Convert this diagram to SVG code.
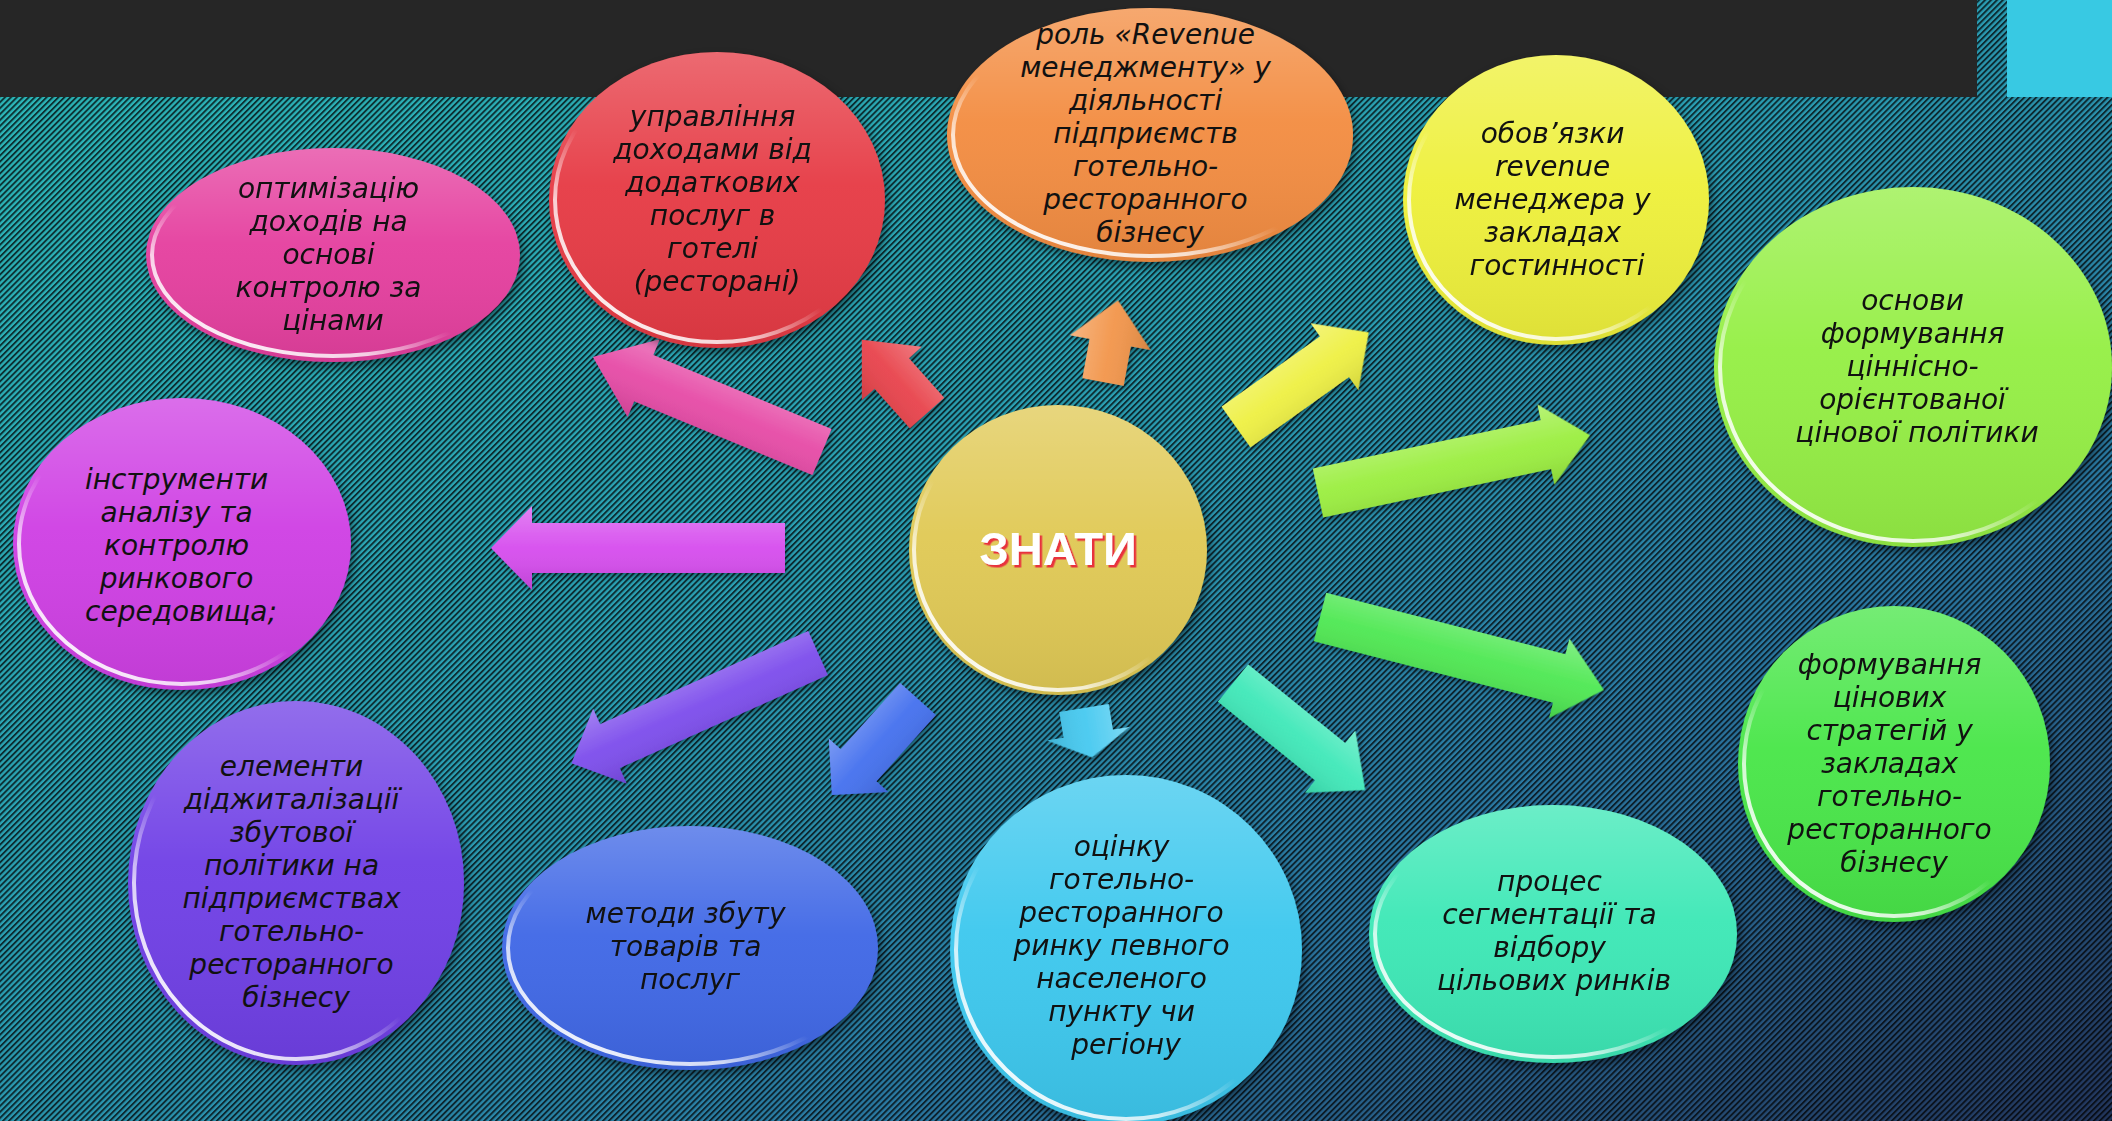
<svg xmlns="http://www.w3.org/2000/svg" width="2112" height="1121" viewBox="0 0 2112 1121">
<defs>
  <linearGradient id="bg" x1="0" y1="0" x2="1" y2="1">
    <stop offset="0" stop-color="#2cb8b8"/>
    <stop offset="0.45" stop-color="#2a9eb2"/>
    <stop offset="0.72" stop-color="#2a76a0"/>
    <stop offset="1" stop-color="#22355c"/>
  </linearGradient>
  <pattern id="stripes" width="4.2" height="4.2" patternUnits="userSpaceOnUse" patternTransform="rotate(45)">
    <rect x="0" y="0" width="1.9" height="4.2" fill="#000" fill-opacity="0.72"/>
  </pattern>
  <linearGradient id="gloss" x1="0" y1="0" x2="0" y2="1">
    <stop offset="0" stop-color="#fff" stop-opacity="0.24"/>
    <stop offset="0.45" stop-color="#fff" stop-opacity="0.04"/>
    <stop offset="1" stop-color="#000" stop-opacity="0.07"/>
  </linearGradient>
  <linearGradient id="rimg" x1="0.05" y1="0.95" x2="0.55" y2="0.35">
    <stop offset="0" stop-color="#fff" stop-opacity="1"/>
    <stop offset="0.4" stop-color="#fff" stop-opacity="0.75"/>
    <stop offset="0.7" stop-color="#fff" stop-opacity="0"/>
  </linearGradient>
  <linearGradient id="abev" x1="0" y1="0" x2="0" y2="1">
    <stop offset="0" stop-color="#fff" stop-opacity="0.3"/>
    <stop offset="0.5" stop-color="#fff" stop-opacity="0.05"/>
    <stop offset="1" stop-color="#000" stop-opacity="0.12"/>
  </linearGradient>
  <filter id="sh" x="-10%" y="-10%" width="125%" height="125%">
    <feDropShadow dx="3" dy="5" stdDeviation="5" flood-color="#000" flood-opacity="0.45"/>
  </filter>
  <filter id="ash" x="-10%" y="-20%" width="130%" height="150%">
    <feDropShadow dx="2" dy="3" stdDeviation="3" flood-color="#000" flood-opacity="0.35"/>
  </filter>
  <filter id="redsh" x="-5%" y="-5%" width="115%" height="120%">
    <feDropShadow dx="2.5" dy="2.5" stdDeviation="0" flood-color="#e8323c" flood-opacity="1"/>
  </filter>
  <style>
    .t{font-family:"DejaVu Sans","Liberation Sans",sans-serif;font-style:italic;font-size:28px;fill:#111;text-anchor:middle}
    .rim{fill:none;stroke:url(#rimg);stroke-width:4}
    .gl{fill:url(#gloss)}
    .bev{fill:url(#abev)}
    .main{font-family:"Liberation Sans","Arial",sans-serif;font-weight:bold;font-size:47px;fill:#fff;text-anchor:middle}
  </style>
</defs>

<!-- background -->
<rect x="0" y="0" width="2112" height="1121" fill="url(#bg)"/>
<rect x="0" y="0" width="2112" height="1121" fill="url(#stripes)"/>
<rect x="0" y="0" width="1977" height="97" fill="#262626"/>
<rect x="2007" y="0" width="105" height="97" fill="#38c9e3"/>

<!-- connectors -->
<g id="connectors" filter="url(#ash)">
  <g transform="translate(822,452) rotate(-157.5) scale(1,-1)">
    <path d="M0,-25 L193,-25 L193,-42 L248,0 L193,42 L193,25 L0,25 Z" fill="#e64aa6"/>
    <path d="M0,-25 L193,-25 L193,-42 L248,0 L193,42 L193,25 L0,25 Z" class="bev"/>
  </g>
  <g transform="translate(927,413) rotate(-131.7) scale(1,-1)">
    <path d="M0,-23 L53,-23 L53,-40 L98,0 L53,40 L53,23 L0,23 Z" fill="#e8434b"/>
    <path d="M0,-23 L53,-23 L53,-40 L98,0 L53,40 L53,23 L0,23 Z" class="bev"/>
  </g>
  <g transform="translate(1103,382) rotate(-79.6)">
    <path d="M0,-21 L40,-21 L40,-41 L83,0 L40,41 L40,21 L0,21 Z" fill="#f2954a"/>
    <path d="M0,-21 L40,-21 L40,-41 L83,0 L40,41 L40,21 L0,21 Z" class="bev"/>
  </g>
  <g transform="translate(1236,427) rotate(-35.5)">
    <path d="M0,-25 L121,-25 L121,-41 L163,0 L121,41 L121,25 L0,25 Z" fill="#eef043"/>
    <path d="M0,-25 L121,-25 L121,-41 L163,0 L121,41 L121,25 L0,25 Z" class="bev"/>
  </g>
  <g transform="translate(1318,493) rotate(-12)">
    <path d="M0,-25 L233,-25 L233,-41 L278,0 L233,41 L233,25 L0,25 Z" fill="#9aee3e"/>
    <path d="M0,-25 L233,-25 L233,-41 L278,0 L233,41 L233,25 L0,25 Z" class="bev"/>
  </g>
  <g transform="translate(1320,617) rotate(14.4)">
    <path d="M0,-25 L247,-25 L247,-41 L293,0 L247,41 L247,25 L0,25 Z" fill="#4ee852"/>
    <path d="M0,-25 L247,-25 L247,-41 L293,0 L247,41 L247,25 L0,25 Z" class="bev"/>
  </g>
  <g transform="translate(1233,683) rotate(39)">
    <path d="M0,-24 L125,-24 L125,-40 L170,0 L125,40 L125,24 L0,24 Z" fill="#3ee8b8"/>
    <path d="M0,-24 L125,-24 L125,-40 L170,0 L125,40 L125,24 L0,24 Z" class="bev"/>
  </g>
  <g transform="translate(1084,708) rotate(80.7)">
    <path d="M0,-25 L26,-25 L26,-42 L50,0 L26,42 L26,25 L0,25 Z" fill="#46c9f0"/>
    <path d="M0,-25 L26,-25 L26,-42 L50,0 L26,42 L26,25 L0,25 Z" class="bev"/>
  </g>
  <g transform="translate(918,699) rotate(131.9) scale(1,-1)">
    <path d="M0,-24 L89,-24 L89,-40 L129,0 L89,40 L89,24 L0,24 Z" fill="#4470ee"/>
    <path d="M0,-24 L89,-24 L89,-40 L129,0 L89,40 L89,24 L0,24 Z" class="bev"/>
  </g>
  <g transform="translate(818,653) rotate(155.9) scale(1,-1)">
    <path d="M0,-24 L228,-24 L228,-41 L270,0 L228,41 L228,24 L0,24 Z" fill="#7c4cec"/>
    <path d="M0,-24 L228,-24 L228,-41 L270,0 L228,41 L228,24 L0,24 Z" class="bev"/>
  </g>
  <g transform="translate(785,548) rotate(180) scale(1,-1)">
    <path d="M0,-25 L253,-25 L253,-42 L294,0 L253,42 L253,25 L0,25 Z" fill="#d64cee"/>
    <path d="M0,-25 L253,-25 L253,-42 L294,0 L253,42 L253,25 L0,25 Z" class="bev"/>
  </g>
</g>

<!-- nodes -->
<g id="n-center">
  <ellipse cx="1058" cy="550" rx="149" ry="145" fill="#e0c955" filter="url(#sh)"/>
  <ellipse cx="1058" cy="550" rx="149" ry="145" class="gl"/>
  <ellipse cx="1058" cy="550" rx="144" ry="140" class="rim"/>
  <text class="main" x="1058" y="565" filter="url(#redsh)">ЗНАТИ</text>
</g>

<g id="n-optimization">
  <ellipse cx="333" cy="255" rx="187" ry="107" fill="#e5409f" filter="url(#sh)"/>
  <ellipse cx="333" cy="255" rx="187" ry="107" class="gl"/>
  <ellipse cx="333" cy="255" rx="181" ry="101" class="rim"/>
  <text class="t">
    <tspan x="333" y="198">оптимізацію</tspan>
    <tspan x="333" y="231">доходів на</tspan>
    <tspan x="333" y="264">основі</tspan>
    <tspan x="333" y="297">контролю за</tspan>
    <tspan x="333" y="330">цінами</tspan>
  </text>
</g>

<g id="n-income">
  <ellipse cx="717" cy="200" rx="168" ry="148" fill="#e63a44" filter="url(#sh)"/>
  <ellipse cx="717" cy="200" rx="168" ry="148" class="gl"/>
  <ellipse cx="717" cy="200" rx="162" ry="142" class="rim"/>
  <text class="t">
    <tspan x="717" y="126">управління</tspan>
    <tspan x="717" y="159">доходами від</tspan>
    <tspan x="717" y="192">додаткових</tspan>
    <tspan x="717" y="225">послуг в</tspan>
    <tspan x="717" y="258">готелі</tspan>
    <tspan x="717" y="291">(ресторані)</tspan>
  </text>
</g>

<g id="n-role">
  <ellipse cx="1150" cy="135" rx="203" ry="127" fill="#f38d42" filter="url(#sh)"/>
  <ellipse cx="1150" cy="135" rx="203" ry="127" class="gl"/>
  <ellipse cx="1150" cy="135" rx="197" ry="121" class="rim"/>
  <text class="t">
    <tspan x="1150" y="44">роль «Revenue</tspan>
    <tspan x="1150" y="77">менеджменту» у</tspan>
    <tspan x="1150" y="110">діяльності</tspan>
    <tspan x="1150" y="143">підприємств</tspan>
    <tspan x="1150" y="176">готельно-</tspan>
    <tspan x="1150" y="209">ресторанного</tspan>
    <tspan x="1150" y="242">бізнесу</tspan>
  </text>
</g>

<g id="n-duties">
  <ellipse cx="1556" cy="200" rx="153" ry="145" fill="#eef03a" filter="url(#sh)"/>
  <ellipse cx="1556" cy="200" rx="153" ry="145" class="gl"/>
  <ellipse cx="1556" cy="200" rx="147" ry="139" class="rim"/>
  <text class="t">
    <tspan x="1557" y="143">обов’язки</tspan>
    <tspan x="1557" y="176">revenue</tspan>
    <tspan x="1557" y="209">менеджера у</tspan>
    <tspan x="1557" y="242">закладах</tspan>
    <tspan x="1557" y="275">гостинності</tspan>
  </text>
</g>

<g id="n-value-pricing">
  <ellipse cx="1913" cy="367" rx="199" ry="180" fill="#95ef44" filter="url(#sh)"/>
  <ellipse cx="1913" cy="367" rx="199" ry="180" class="gl"/>
  <ellipse cx="1913" cy="367" rx="193" ry="174" class="rim"/>
  <text class="t">
    <tspan x="1917" y="310">основи</tspan>
    <tspan x="1917" y="343">формування</tspan>
    <tspan x="1917" y="376">ціннісно-</tspan>
    <tspan x="1917" y="409">орієнтованої</tspan>
    <tspan x="1917" y="442">цінової політики</tspan>
  </text>
</g>

<g id="n-tools">
  <ellipse cx="182" cy="544" rx="169" ry="146" fill="#cf3fe4" filter="url(#sh)"/>
  <ellipse cx="182" cy="544" rx="169" ry="146" class="gl"/>
  <ellipse cx="182" cy="544" rx="163" ry="140" class="rim"/>
  <text class="t">
    <tspan x="181" y="489">інструменти</tspan>
    <tspan x="181" y="522">аналізу та</tspan>
    <tspan x="181" y="555">контролю</tspan>
    <tspan x="181" y="588">ринкового</tspan>
    <tspan x="181" y="621">середовища;</tspan>
  </text>
</g>

<g id="n-digital">
  <ellipse cx="296" cy="883" rx="168" ry="182" fill="#7040e6" filter="url(#sh)"/>
  <ellipse cx="296" cy="883" rx="168" ry="182" class="gl"/>
  <ellipse cx="296" cy="883" rx="162" ry="176" class="rim"/>
  <text class="t">
    <tspan x="296" y="776">елементи</tspan>
    <tspan x="296" y="809">діджиталізації</tspan>
    <tspan x="296" y="842">збутової</tspan>
    <tspan x="296" y="875">політики на</tspan>
    <tspan x="296" y="908">підприємствах</tspan>
    <tspan x="296" y="941">готельно-</tspan>
    <tspan x="296" y="974">ресторанного</tspan>
    <tspan x="296" y="1007">бізнесу</tspan>
  </text>
</g>

<g id="n-sales">
  <ellipse cx="690" cy="948" rx="188" ry="122" fill="#4068e6" filter="url(#sh)"/>
  <ellipse cx="690" cy="948" rx="188" ry="122" class="gl"/>
  <ellipse cx="690" cy="948" rx="182" ry="116" class="rim"/>
  <text class="t">
    <tspan x="690" y="923">методи збуту</tspan>
    <tspan x="690" y="956">товарів та</tspan>
    <tspan x="690" y="989">послуг</tspan>
  </text>
</g>

<g id="n-market">
  <ellipse cx="1126" cy="950" rx="176" ry="175" fill="#3cc8ee" filter="url(#sh)"/>
  <ellipse cx="1126" cy="950" rx="176" ry="175" class="gl"/>
  <ellipse cx="1126" cy="950" rx="170" ry="169" class="rim"/>
  <text class="t">
    <tspan x="1126" y="856">оцінку</tspan>
    <tspan x="1126" y="889">готельно-</tspan>
    <tspan x="1126" y="922">ресторанного</tspan>
    <tspan x="1126" y="955">ринку певного</tspan>
    <tspan x="1126" y="988">населеного</tspan>
    <tspan x="1126" y="1021">пункту чи</tspan>
    <tspan x="1126" y="1054">регіону</tspan>
  </text>
</g>

<g id="n-segmentation">
  <ellipse cx="1553" cy="934" rx="184" ry="129" fill="#3ee8b6" filter="url(#sh)"/>
  <ellipse cx="1553" cy="934" rx="184" ry="129" class="gl"/>
  <ellipse cx="1553" cy="934" rx="178" ry="123" class="rim"/>
  <text class="t">
    <tspan x="1554" y="891">процес</tspan>
    <tspan x="1554" y="924">сегментації та</tspan>
    <tspan x="1554" y="957">відбору</tspan>
    <tspan x="1554" y="990">цільових ринків</tspan>
  </text>
</g>

<g id="n-strategies">
  <ellipse cx="1894" cy="764" rx="156" ry="158" fill="#48e648" filter="url(#sh)"/>
  <ellipse cx="1894" cy="764" rx="156" ry="158" class="gl"/>
  <ellipse cx="1894" cy="764" rx="150" ry="152" class="rim"/>
  <text class="t">
    <tspan x="1894" y="674">формування</tspan>
    <tspan x="1894" y="707">цінових</tspan>
    <tspan x="1894" y="740">стратегій у</tspan>
    <tspan x="1894" y="773">закладах</tspan>
    <tspan x="1894" y="806">готельно-</tspan>
    <tspan x="1894" y="839">ресторанного</tspan>
    <tspan x="1894" y="872">бізнесу</tspan>
  </text>
</g>
</svg>
